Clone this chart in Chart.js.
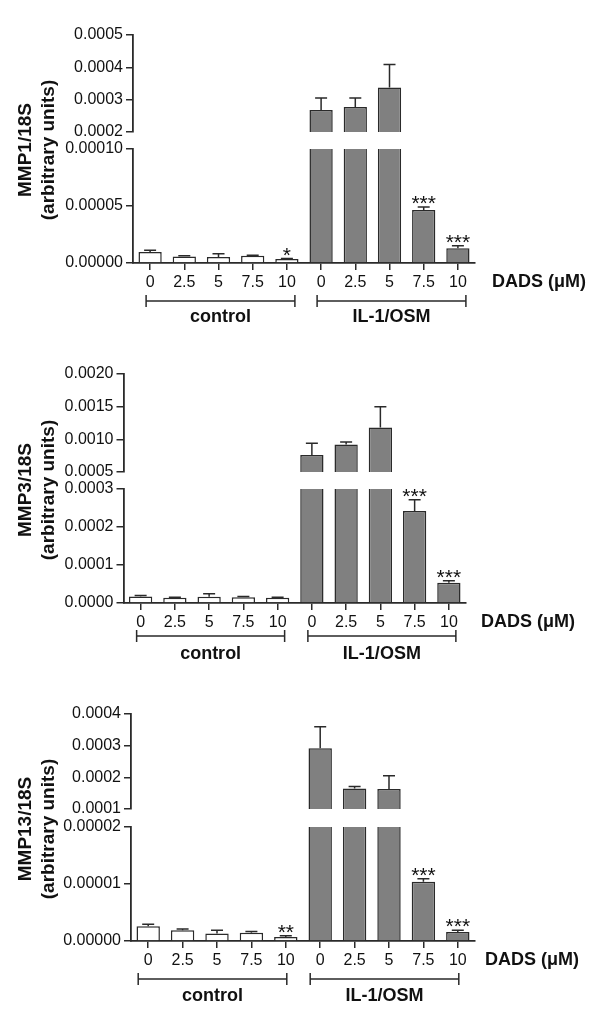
<!DOCTYPE html>
<html>
<head>
<meta charset="utf-8">
<script src="https://cdn.jsdelivr.net/npm/chart.js@4.4.0/dist/chart.umd.min.js"></script>
<style>
  html, body { margin: 0; padding: 0; background: #fff; }
  #wrap { position: relative; width: 600px; height: 1033px; }
  #wrap canvas { position: absolute; left: 0; top: 0; }
</style>
</head>
<body>
<div id="wrap"></div>
<script>
const doses = ['0', '2.5', '5', '7.5', '10'];
const groups = ['control', 'IL-1/OSM'];
const doseUnit = 'DADS (μM)';

// MMP1
const mmp1Control = [0.0000096, 0.0000058, 0.0000053, 0.0000064, 0.0000035];
const mmp1ControlErr = [0.0000015, 0.0000006, 0.0000029, 0.0000004, 0.0000004];
const mmp1Il = [0.000268, 0.000277, 0.000338, 0.0000465, 0.000013];
const mmp1IlErr = [0.000037, 0.000028, 0.000071, 0.0000026, 0.0000022];
const mmp1Stars = ['', '', '', '', '*', '', '', '', '***', '***'];
const mmp1UpperTicks = ['0.0002', '0.0003', '0.0004', '0.0005'];
const mmp1LowerTicks = ['0.00000', '0.00005', '0.00010'];

// MMP3
const mmp3Control = [0.000017, 0.000014, 0.0000165, 0.000015, 0.000014];
const mmp3ControlErr = [0.000003, 0.000001, 0.000008, 0.000002, 0.000001];
const mmp3Il = [0.00076, 0.00092, 0.00118, 0.000242, 0.0000534];
const mmp3IlErr = [0.00018, 0.00004, 0.00032, 0.00003, 0.000005];
const mmp3Stars = ['', '', '', '', '', '', '', '', '***', '***'];
const mmp3UpperTicks = ['0.0005', '0.0010', '0.0015', '0.0020'];
const mmp3LowerTicks = ['0.0000', '0.0001', '0.0002', '0.0003'];

// MMP13
const mmp13Control = [0.0000026, 0.0000019, 0.0000013, 0.00000145, 0.0000007];
const mmp13ControlErr = [0.00000035, 0.0000002, 0.0000006, 0.0000002, 0.0000002];
const mmp13Il = [0.000292, 0.000165, 0.000163, 0.0000104, 0.0000016];
const mmp13IlErr = [0.000068, 0.000006, 0.000042, 0.0000005, 0.0000003];
const mmp13Stars = ['', '', '', '', '**', '', '', '', '***', '***'];
const mmp13UpperTicks = ['0.0001', '0.0002', '0.0003', '0.0004'];
const mmp13LowerTicks = ['0.00000', '0.00001', '0.00002'];

const AX = '#2a2a2a';
const TXT = '#111';
const X_H = 30;
const FONT = "'Liberation Sans', Arial, Helvetica, sans-serif";

Chart.defaults.font.family = FONT;
Chart.defaults.font.size = 16;
Chart.defaults.color = TXT;

const panels = [
  { title: 'MMP1/18S', ctrl: mmp1Control, ctrlErr: mmp1ControlErr, il: mmp1Il, ilErr: mmp1IlErr,
    stars: mmp1Stars, upTicks: mmp1UpperTicks, lowTicks: mmp1LowerTicks,
    left: 133, right: 475, up: [35, 132], low: [149, 263],
    titleY: 150, unitX: 492, bracketY: 301, groupY: 322, brL: -4, brR: 8 },
  { title: 'MMP3/18S', ctrl: mmp3Control, ctrlErr: mmp3ControlErr, il: mmp3Il, ilErr: mmp3IlErr,
    stars: mmp3Stars, upTicks: mmp3UpperTicks, lowTicks: mmp3LowerTicks,
    left: 123.5, right: 466, up: [374, 472], low: [489, 603],
    titleY: 490, unitX: 481, bracketY: 636, groupY: 659, brL: -4, brR: 7 },
  { title: 'MMP13/18S', ctrl: mmp13Control, ctrlErr: mmp13ControlErr, il: mmp13Il, ilErr: mmp13IlErr,
    stars: mmp13Stars, upTicks: mmp13UpperTicks, lowTicks: mmp13LowerTicks,
    left: 131, right: 475, up: [714, 809], low: [827, 941],
    titleY: 829, unitX: 485, bracketY: 979, groupY: 1001, brL: -10, brR: 1 },
];

// error bars + significance stars, clipped to each segment
const errorBars = {
  id: 'errorBars',
  afterDatasetsDraw(chart, args, opts) {
    const { ctx, chartArea: a } = chart;
    const y = chart.scales.y;
    const ds = chart.data.datasets[0];
    const meta = chart.getDatasetMeta(0);
    ctx.save();
    ctx.beginPath();
    ctx.rect(a.left, a.top - 1, a.right - a.left, a.bottom - a.top + 1);
    ctx.clip();
    ctx.strokeStyle = AX;
    ctx.lineWidth = 1.5;
    meta.data.forEach((bar, i) => {
      const v = ds.data[i], e = opts.errors[i];
      const y0 = y.getPixelForValue(v), y1 = y.getPixelForValue(v + e);
      ctx.beginPath();
      ctx.moveTo(bar.x, y0);
      ctx.lineTo(bar.x, y1);
      ctx.moveTo(bar.x - 6, y1);
      ctx.lineTo(bar.x + 6, y1);
      ctx.stroke();
    });
    ctx.restore();

    ctx.save();
    ctx.fillStyle = TXT;
    ctx.font = '21px ' + FONT;
    ctx.textAlign = 'center';
    ctx.textBaseline = 'alphabetic';
    meta.data.forEach((bar, i) => {
      if (!opts.stars[i]) return;
      const y1 = y.getPixelForValue(ds.data[i] + opts.errors[i]);
      if (y1 < a.top - 1 || y1 > a.bottom) return;
      ctx.fillText(opts.stars[i], bar.x, y1 + 3);
    });
    ctx.restore();
  }
};

// axis titles, dose unit, group brackets
const panelText = {
  id: 'panelText',
  afterDraw(chart, args, p) {
    const { ctx, chartArea: a } = chart;
    const x = chart.scales.x;
    ctx.save();
    ctx.fillStyle = TXT;

    ctx.save();
    ctx.translate(31, p.titleY);
    ctx.rotate(-Math.PI / 2);
    ctx.textAlign = 'center';
    ctx.textBaseline = 'alphabetic';
    ctx.font = 'bold 19px ' + FONT;
    ctx.fillText(p.title, 0, 0);
    ctx.fillText('(arbitrary units)', 0, 23);
    ctx.restore();

    ctx.font = 'bold 18px ' + FONT;
    ctx.textAlign = 'left';
    ctx.textBaseline = 'middle';
    ctx.fillText(doseUnit, p.unitX, a.bottom + 19);

    ctx.strokeStyle = AX;
    ctx.lineWidth = 1.5;
    ctx.font = 'bold 18px ' + FONT;
    ctx.textAlign = 'center';
    ctx.textBaseline = 'alphabetic';
    groups.forEach((g, k) => {
      const x0 = x.getPixelForValue(k * 5) + p.brL;
      const x1 = x.getPixelForValue(k * 5 + 4) + p.brR;
      ctx.beginPath();
      ctx.moveTo(x0, p.bracketY);
      ctx.lineTo(x1, p.bracketY);
      ctx.moveTo(x0, p.bracketY - 6);
      ctx.lineTo(x0, p.bracketY + 6);
      ctx.moveTo(x1, p.bracketY - 6);
      ctx.lineTo(x1, p.bracketY + 6);
      ctx.stroke();
      ctx.fillText(g, (x0 + x1) / 2, p.groupY);
    });
    ctx.restore();
  }
};

const wrap = document.getElementById('wrap');

function makeChart(p, part) {
  const cv = document.createElement('canvas');
  cv.width = 600;
  cv.height = 1033;
  wrap.appendChild(cv);
  const isLow = part === 'low';
  const tickLabels = isLow ? p.lowTicks : p.upTicks;
  const area = isLow ? p.low : p.up;
  const values = p.ctrl.concat(p.il);
  const errs = p.ctrlErr.concat(p.ilErr);

  return new Chart(cv, {
    type: 'bar',
    data: {
      labels: doses.concat(doses),
      datasets: [{
        data: values,
        backgroundColor: values.map((v, i) => i < doses.length ? '#ffffff' : '#808080'),
        borderColor: AX,
        borderWidth: 1.5,
        barPercentage: 0.68,
        categoryPercentage: 1,
        clip: 0,
      }],
    },
    options: {
      responsive: false,
      animation: false,
      events: [],
      layout: {
        padding: { left: 0, right: 600 - p.right, top: area[0], bottom: 1033 - area[1] - (isLow ? X_H : 0) },
      },
      plugins: {
        legend: { display: false },
        tooltip: { enabled: false },
        errorBars: { errors: errs, stars: p.stars },
        panelText: isLow ? p : false,
      },
      scales: {
        x: {
          display: isLow,
          offset: true,
          grid: { offset: false, drawOnChartArea: false, drawTicks: true, tickLength: 7, color: AX, lineWidth: 1.5 },
          border: { display: true, color: AX, width: 1.8 },
          ticks: { padding: 3, color: TXT, font: { size: 16 }, maxRotation: 0, autoSkip: false },
          afterFit: s => { s.height = isLow ? X_H : 0; },
        },
        y: {
          min: +tickLabels[0],
          max: +tickLabels[tickLabels.length - 1],
          afterBuildTicks: s => { s.ticks = tickLabels.map(t => ({ value: +t })); },
          grid: { drawOnChartArea: false, drawTicks: true, tickLength: 7, color: AX, lineWidth: 1.5 },
          border: { display: true, color: AX, width: 1.8 },
          ticks: { padding: 3, color: TXT, font: { size: 16 }, autoSkip: false, callback: (v, i) => tickLabels[i] },
          afterFit: s => { s.width = p.left; },
        },
      },
    },
    plugins: isLow ? [errorBars, panelText] : [errorBars],
  });
}

panels.forEach(p => {
  makeChart(p, 'low');
  makeChart(p, 'up');
});
</script>
</body>
</html>
